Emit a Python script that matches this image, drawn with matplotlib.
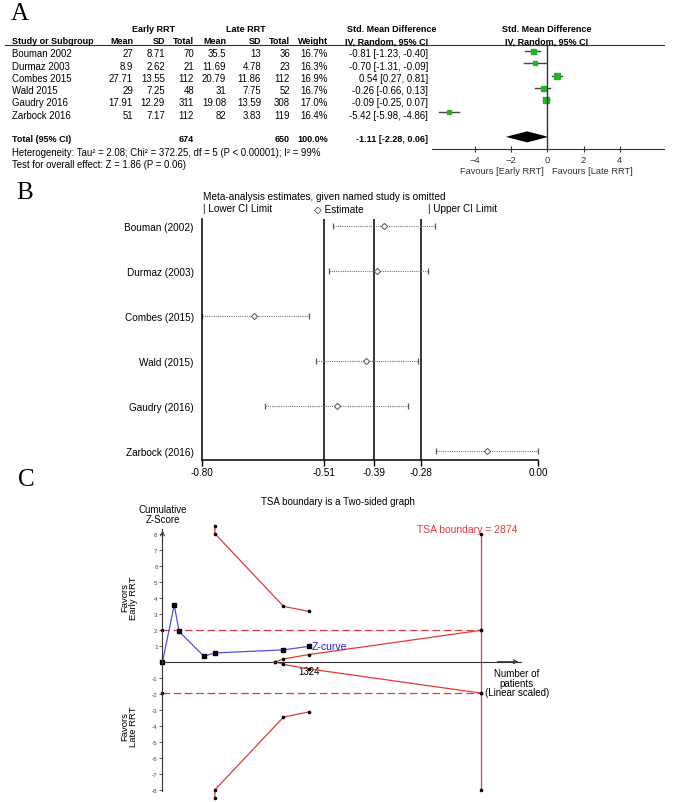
import numpy as np
import matplotlib
matplotlib.use('Agg')
import matplotlib.pyplot as plt

plt.rcParams['font.family'] = ['Liberation Sans', 'DejaVu Sans']

# ---- panel A data (forest plot of SMD) ----
studies = ['Bouman 2002', 'Durmaz 2003', 'Combes 2015', 'Wald 2015', 'Gaudry 2016', 'Zarbock 2016']
early_mean = [27, 8.9, 27.71, 29, 17.91, 51]
early_sd = [8.71, 2.62, 13.55, 7.25, 12.29, 7.17]
early_n = [70, 21, 112, 48, 311, 112]
late_mean = [35.5, 11.69, 20.79, 31, 19.08, 82]
late_sd = [13, 4.78, 11.86, 7.75, 13.59, 3.83]
late_n = [36, 23, 112, 52, 308, 119]
weight = [16.7, 16.3, 16.9, 16.7, 17.0, 16.4]
smd = [-0.81, -0.70, 0.54, -0.26, -0.09, -5.42]
smd_lo = [-1.23, -1.31, 0.27, -0.66, -0.25, -5.98]
smd_hi = [-0.40, -0.09, 0.81, 0.13, 0.07, -4.86]
pooled = (-1.11, -2.28, 0.06)
forest_ticks = [-4, -2, 0, 2, 4]

# ---- panel B data (leave-one-out) ----
omit_labels = ['Bouman (2002)', 'Durmaz (2003)', 'Combes (2015)', 'Wald (2015)', 'Gaudry (2016)', 'Zarbock (2016)']
omit_est = [-0.368, -0.384, -0.676, -0.409, -0.480, -0.122]
omit_lo = [-0.488, -0.499, -0.800, -0.530, -0.649, -0.244]
omit_hi = [-0.245, -0.263, -0.546, -0.287, -0.311, 0.000]
ref_lines = [-0.51, -0.39, -0.28]
b_ticks = [-0.80, -0.51, -0.39, -0.28, 0.00]

# ---- panel C data (TSA) ----
z_n = [0, 106, 150, 374, 474, 1093, 1324]
z_val = [0, 3.55, 1.89, 0.34, 0.55, 0.74, 0.96]
bound_n = [474, 474, 1093, 1324]
bound_z = [8.5, 8.0, 3.46, 3.14]
fut_n = [1020, 1093, 1324, 2874]
fut_z = [0, 0.17, 0.45, 1.96]
tsa_n = 2874
z_crit = 1.96
z_cap = 8

W, H = 675, 803
fig = plt.figure(figsize=(6.75, 8.03), dpi=100)


def px_axes(x0, y0, x1, y1):
    a = fig.add_axes([x0 / W, 1 - y1 / H, (x1 - x0) / W, (y1 - y0) / H])
    a.patch.set_alpha(0)
    return a


ax0 = px_axes(0, 0, W, H)
ax0.set_xlim(0, W)
ax0.set_ylim(H, 0)
ax0.axis('off')

fs = 6.9
fsb = 6.5
serif = dict(family='Liberation Serif', fontsize=18, va='center', ha='left')
ax0.text(11, 13.5, 'A', **serif)
ax0.text(16, 193, 'B', **serif)
ax0.text(18, 480, 'C', **serif)

# table A
bold = dict(fontsize=fsb, fontweight='bold', va='center')
ax0.text(153, 30, 'Early RRT', ha='center', **bold)
ax0.text(246, 30, 'Late RRT', ha='center', **bold)
ax0.text(392, 30, 'Std. Mean Difference', ha='center', **bold)
ax0.text(547, 30, 'Std. Mean Difference', ha='center', **bold)
ax0.text(547, 41.5, 'IV, Random, 95% CI', ha='center', **bold)
col_right = [133, 165, 194, 226, 261, 290, 328, 428]
heads = ['Mean', 'SD', 'Total', 'Mean', 'SD', 'Total', 'Weight', 'IV, Random, 95% CI']
ax0.text(12, 41.5, 'Study or Subgroup', ha='left', **bold)
for xr, h in zip(col_right, heads):
    ax0.text(xr, 41.5, h, ha='right', **bold)
ax0.plot([5, 664], [45.5, 45.5], color='#333333', lw=0.8)

for i, s in enumerate(studies):
    y = 54.3 + 12.3 * i
    vals = ['{:g}'.format(early_mean[i]), '{:g}'.format(early_sd[i]), str(early_n[i]),
            '{:g}'.format(late_mean[i]), '{:g}'.format(late_sd[i]), str(late_n[i]),
            '{:.1f}%'.format(weight[i]),
            '{:.2f} [{:.2f}, {:.2f}]'.format(smd[i], smd_lo[i], smd_hi[i])]
    ax0.text(12, y, s, ha='left', va='center', fontsize=fs)
    for xr, v in zip(col_right, vals):
        ax0.text(xr, y, v, ha='right', va='center', fontsize=fs)

ty = 139
ax0.text(12, ty, 'Total (95% CI)', ha='left', **bold)
ax0.text(col_right[2], ty, str(sum(early_n)), ha='right', **bold)
ax0.text(col_right[5], ty, str(sum(late_n)), ha='right', **bold)
ax0.text(col_right[6], ty, '{:.1f}%'.format(sum(weight)), ha='right', **bold)
ax0.text(col_right[7], ty, '{:.2f} [{:.2f}, {:.2f}]'.format(*pooled), ha='right', **bold)
ax0.text(12, 153, 'Heterogeneity: Tau² = 2.08; Chi² = 372.25, df = 5 (P < 0.00001); I² = 99%',
         ha='left', va='center', fontsize=fs)
ax0.text(12, 165, 'Test for overall effect: Z = 1.86 (P = 0.06)', ha='left', va='center', fontsize=fs)
ax0.text(544, 171, 'Favours [Early RRT]', ha='right', va='center', fontsize=6.7, color='#333333')
ax0.text(552, 171, 'Favours [Late RRT]', ha='left', va='center', fontsize=6.7, color='#333333')

# forest axes
axf = px_axes(432, 45.5, 663.5, 150)
axf.set_xlim(-6.35, 6.4)
axf.set_ylim(7.99, -0.545)
for i in range(len(studies)):
    axf.plot([smd_lo[i], smd_hi[i]], [i, i], color='#444444', lw=1)
    axf.plot(smd[i], i, 's', color='#22b422', ms=3.6 * np.sqrt(weight[i] / 16.7), mec='#22b422')
d_h = 0.45
axf.fill([pooled[1], pooled[0], pooled[2], pooled[0]], [7, 7 - d_h, 7, 7 + d_h], color='black', lw=0)
axf.axvline(0, color='#333333', lw=1)
for sp in ['top', 'right', 'left']:
    axf.spines[sp].set_visible(False)
axf.spines['bottom'].set_color('#333333')
axf.set_yticks([])
axf.set_xticks(forest_ticks)
axf.tick_params(axis='x', direction='inout', length=5, width=0.8, pad=2, labelsize=6.8, colors='#333333')

# ---- panel B ----
fb = 7.2
ax0.text(203, 197, 'Meta-analysis estimates, given named study is omitted', ha='left', va='center', fontsize=fb)
ax0.text(203, 209.5, '| Lower CI Limit', ha='left', va='center', fontsize=fb)
ax0.text(314, 209.5, '◇ Estimate', ha='left', va='center', fontsize=fb,
         family=['Liberation Sans', 'DejaVu Sans'])
ax0.text(428, 209.5, '| Upper CI Limit', ha='left', va='center', fontsize=fb)

axb = px_axes(202, 220, 538.4, 461)
axb.set_xlim(-0.80, 0.00)
axb.set_ylim(5.205, -0.156)
for r in ref_lines:
    axb.axvline(r, color='black', lw=1.1)
rows = np.arange(len(omit_labels))
for i in rows:
    axb.plot([omit_lo[i], omit_hi[i]], [i, i], ls=(0, (1, 1)), color='#777777', lw=0.8, clip_on=False)
    axb.plot([omit_lo[i], omit_hi[i]], [i, i], '|', color='#555555', ms=5, mew=0.9, clip_on=False)
    axb.plot(omit_est[i], i, 'D', ms=3.2, mfc='white', mec='#666666', mew=0.8, clip_on=False)
axb.spines['top'].set_visible(False)
axb.spines['right'].set_visible(False)
axb.spines['left'].set_linewidth(1.1)
axb.spines['bottom'].set_linewidth(1.1)
axb.set_yticks(rows)
axb.set_yticklabels(omit_labels, fontsize=fb)
axb.tick_params(axis='y', length=0, pad=6)
axb.set_xticks(b_ticks)
axb.set_xticklabels(['{:.2f}'.format(t) for t in b_ticks], fontsize=fb)
axb.tick_params(axis='x', direction='out', length=4, width=1, pad=1)

# ---- panel C ----
ax0.text(338, 502, 'TSA boundary is a Two-sided graph', ha='center', va='center', fontsize=7)
ax0.text(163, 515.5, 'Cumulative\nZ-Score', ha='center', va='center', fontsize=7, linespacing=1.0)
ax0.text(129, 598, 'Favors\nEarly RRT', ha='center', va='center', fontsize=6.8, rotation=90, linespacing=1.0)
ax0.text(129, 727, 'Favors\nLate RRT', ha='center', va='center', fontsize=6.8, rotation=90, linespacing=1.0)

axc = px_axes(150, 525, 540, 800)
axc.set_xlim(-112.9, 3410)
axc.set_ylim(-8.58, 8.606)
red = '#e23a36'
axc.plot([0, tsa_n], [z_crit, z_crit], ls=(0, (6, 3)), color=red, lw=0.9)
axc.plot([0, tsa_n], [-z_crit, -z_crit], ls=(0, (6, 3)), color=red, lw=0.9)
axc.plot([tsa_n, tsa_n], [-z_cap, z_cap], color=red, lw=0.9)
axc.plot([tsa_n] * 4, [z_cap, z_crit, -z_crit, -z_cap], 'o', color='black', ms=1.6, clip_on=False)
axc.plot([0, 0], [z_crit, -z_crit], 'o', color='black', ms=1.6, clip_on=False)
for sgn in [1, -1]:
    axc.plot(bound_n, [sgn * z for z in bound_z], color=red, lw=0.9, marker='o', ms=1.6,
             mfc='black', mec='black', clip_on=False)
    axc.plot(fut_n, [sgn * z for z in fut_z], color=red, lw=0.9, marker='o', ms=1.6,
             mfc='black', mec='black', clip_on=False)
axc.plot(z_n, z_val, color='#5050e0', lw=0.9, marker='s', ms=2.4, mfc='black', mec='black', clip_on=False)
axc.text(z_n[-1] + 25, z_val[-1], 'Z-curve', color='#2020d0', fontsize=7.5, va='center', ha='left')
axc.text(2751, 8.3, 'TSA boundary = 2874', color=red, fontsize=7.5, va='center', ha='center')
axc.text(3200, -1.3, 'Number of\npatients\n(Linear scaled)', fontsize=7, ha='center', va='center',
         linespacing=0.95)

axc.spines['top'].set_visible(False)
axc.spines['right'].set_visible(False)
axc.spines['left'].set_position(('data', 0))
axc.spines['bottom'].set_position(('data', 0))
axc.spines['left'].set_bounds(-8.1, 8.3)
axc.spines['bottom'].set_bounds(0, 3236)
for sp in ['left', 'bottom']:
    axc.spines[sp].set_linewidth(0.8)
    axc.spines[sp].set_color('#333333')
axc.annotate('', xy=(0, 8.36), xytext=(0, 7.6),
             arrowprops=dict(arrowstyle='->', lw=0.8, color='#333333', mutation_scale=7))
axc.annotate('', xy=(3240, 0), xytext=(3000, 0),
             arrowprops=dict(arrowstyle='->', lw=0.8, color='#333333', mutation_scale=7))
yt = [v for v in range(-8, 9) if v != 0]
axc.set_yticks(yt)
axc.set_yticklabels([str(v) for v in yt])
axc.tick_params(axis='y', direction='out', length=2.5, width=0.6, labelsize=4.5, colors='#444444', pad=1)
axc.set_xticks([z_n[-1]])
axc.set_xticklabels([str(z_n[-1])])
axc.tick_params(axis='x', length=0, labelsize=7, pad=3)

fig.savefig('out.png', dpi=100)
